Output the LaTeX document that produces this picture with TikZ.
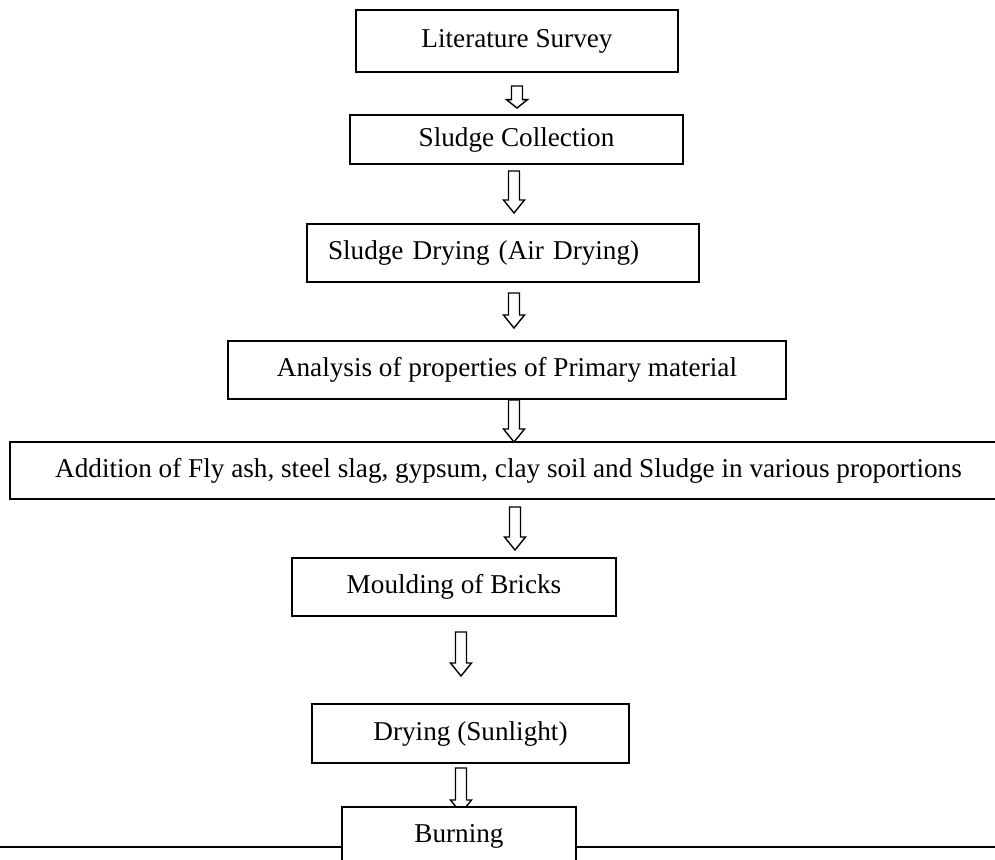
\documentclass[tikz,border=0pt]{standalone}
\usepackage{fontspec}
\setmainfont{Liberation Serif}
\usetikzlibrary{calc}

\begin{document}
\begin{tikzpicture}[x=0.5pt, y=-0.5pt]
        \tikzstyle{stagebox}=[rectangle, draw=black, line width=1pt, fill=white, inner sep=0pt, font=\fontsize{13.6}{16}\selectfont]
        \tikzstyle{hollowarrow}=[draw=black, line width=0.7pt, fill=white, line join=miter]
        \clip (0,0) rectangle (995,859);
        \fill[white] (0,0) rectangle (995,859);
        \node[stagebox, minimum width=161pt, minimum height=31pt] (lit) at (517,41) {Literature Survey};
        \node[stagebox, minimum width=166.5pt, minimum height=24.5pt] (coll) at (516.5,139.5) {Sludge Collection};
        \node[stagebox, text width=175pt, inner xsep=10.5pt, minimum height=29pt, align=left] (dry) at (503,253) {Sludge Drying (Air Drying)};
        \node[stagebox, minimum width=279pt, minimum height=29pt] (anal) at (507,369.5) {Analysis of properties of Primary material};
        \node[stagebox, minimum width=498.5pt, minimum height=28.5pt] (add) at (508.5,470.5) {Addition of Fly ash, steel slag, gypsum, clay soil and Sludge in various proportions};
        \node[stagebox, minimum width=162pt, minimum height=29pt] (mould) at (454,587) {Moulding of Bricks};
        \node[stagebox, minimum width=158.5pt, minimum height=29.5pt] (sun) at (470.5,733.5) {Drying (Sunlight)};
        \draw[line width=1pt] (0,847) -- (995,847);
        % arrow ends
        \coordinate (a1s) at (517,86);  \coordinate (a1e) at (517,108);
        \coordinate (a2s) at (514,171); \coordinate (a2e) at (514,213);
        \coordinate (a3s) at (514,293); \coordinate (a3e) at (514,328);
        \coordinate (a4s) at (514,400); \coordinate (a4e) at (514,442);
        \coordinate (a5s) at (515,507); \coordinate (a5e) at (515,550);
        \coordinate (a6s) at (461,632); \coordinate (a6e) at (461,676);
        \coordinate (a7s) at (461,768); \coordinate (a7e) at (461,813);
        \foreach \s/\e/\h in {a1s/a1e/4.2pt,a2s/a2e/6.5pt,a3s/a3e/6.5pt,a4s/a4e/6.5pt,a5s/a5e/6.5pt,a6s/a6e/6.5pt,a7s/a7e/6.5pt} {
            \draw[hollowarrow] let \p1=(\s), \p2=(\e) in
                (\x1-2.75pt,\y1) -- (\x1-2.75pt,\y2+\h) -- (\x1-5.25pt,\y2+\h) -- (\x1,\y2)
                -- (\x1+5.25pt,\y2+\h) -- (\x1+2.75pt,\y2+\h) -- (\x1+2.75pt,\y1) -- cycle;
        }
        \node[stagebox, minimum width=117pt, minimum height=29pt] (burn) at (459,836) {Burning};
    \end{tikzpicture}
\end{document}
